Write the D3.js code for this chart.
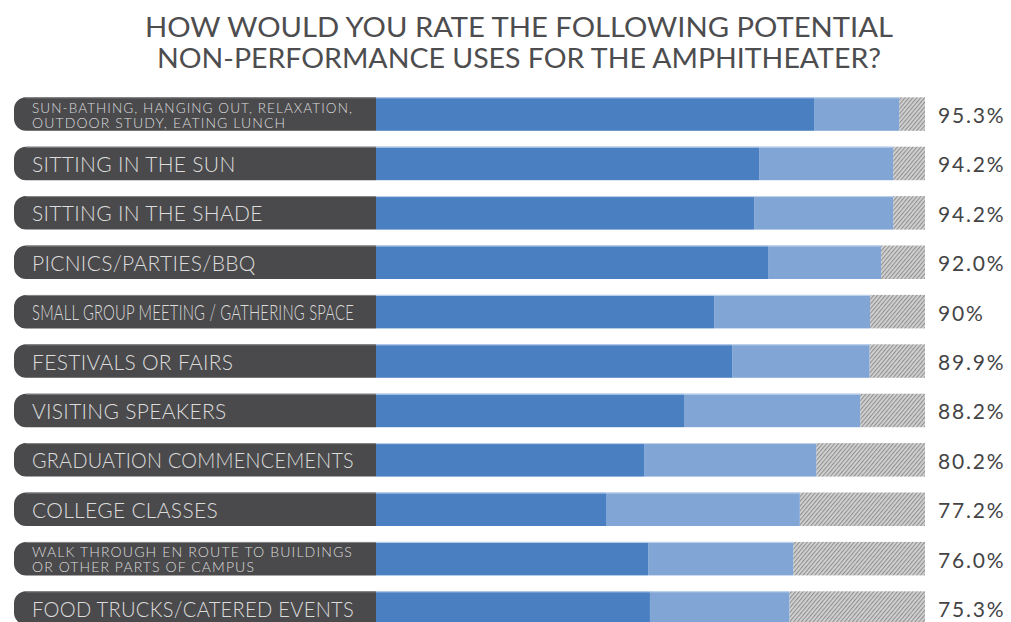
<!DOCTYPE html>
<html>
<head>
<meta charset="utf-8">
<script src="https://cdn.jsdelivr.net/npm/d3@7"></script>
<style>
  html, body { margin: 0; padding: 0; background: #ffffff; }
  svg { display: block; }
</style>
</head>
<body>
<svg id="chart" width="1011" height="622"></svg>
<script>
// Survey answers, one row per potential use ("\n" splits two-line labels)
const categories = [
  "SUN-BATHING, HANGING OUT, RELAXATION,\nOUTDOOR STUDY, EATING LUNCH",
  "SITTING IN THE SUN",
  "SITTING IN THE SHADE",
  "PICNICS/PARTIES/BBQ",
  "SMALL GROUP MEETING / GATHERING SPACE",
  "FESTIVALS OR FAIRS",
  "VISITING SPEAKERS",
  "GRADUATION COMMENCEMENTS",
  "COLLEGE CLASSES",
  "WALK THROUGH EN ROUTE TO BUILDINGS\nOR OTHER PARTS OF CAMPUS",
  "FOOD TRUCKS/CATERED EVENTS"
];
// Share giving the top rating (dark blue)
const topRating = [79.8, 69.8, 68.9, 71.5, 61.6, 64.9, 56.1, 48.9, 41.9, 49.6, 49.9];
// Total positive share (dark + light blue)
const totalPositive = [95.3, 94.2, 94.2, 92.0, 90, 89.9, 88.2, 80.2, 77.2, 76.0, 75.3];
const totalLabels = ["95.3%", "94.2%", "94.2%", "92.0%", "90%", "89.9%", "88.2%", "80.2%", "77.2%", "76.0%", "75.3%"];
const titleLines = [
  "HOW WOULD YOU RATE THE FOLLOWING POTENTIAL",
  "NON-PERFORMANCE USES FOR THE AMPHITHEATER?"
];

const rows = categories.map((c, i) => ({
  label: c,
  top: topRating[i],
  total: totalPositive[i],
  text: totalLabels[i]
}));

const svg = d3.select("#chart");
const FONT = "Lato, 'Open Sans', 'DejaVu Sans', sans-serif";

const x = d3.scaleLinear().domain([0, 100]).range([376, 925]);
const y = d3.scaleBand()
  .domain(d3.range(rows.length))
  .range([97.3, 624.8])
  .paddingInner(0.322)
  .paddingOuter(0);

// Hatched fill for the remainder of each bar
const defs = svg.append("defs");
const pat = defs.append("pattern")
  .attr("id", "hatch")
  .attr("patternUnits", "userSpaceOnUse")
  .attr("width", 3).attr("height", 3)
  .attr("patternTransform", "rotate(40)");
pat.append("rect").attr("width", 3).attr("height", 3).attr("fill", "#d4d4d4");
pat.append("line").attr("x1", 0.6).attr("y1", 0).attr("x2", 0.6).attr("y2", 3)
  .attr("stroke", "#8e8e8e").attr("stroke-width", 1.1);

// Title
svg.append("g").selectAll("text")
  .data(titleLines)
  .join("text")
  .attr("x", 519)
  .attr("y", (d, i) => 36.5 + i * 31.5)
  .attr("text-anchor", "middle")
  .attr("font-family", FONT)
  .attr("font-size", 27)
  .attr("fill", "#4d4d4f")
  .attr("textLength", (d, i) => i === 0 ? 748 : 724)
  .attr("lengthAdjust", "spacingAndGlyphs")
  .text(d => d);

const row = svg.append("g").selectAll("g")
  .data(rows)
  .join("g")
  .attr("transform", (d, i) => `translate(0,${y(i)})`);

const h = y.bandwidth();
const pillLeft = 14, r = 12;

// Dark label pill, rounded on the left
row.append("path")
  .attr("d", () => {
    const p = d3.path();
    const x1 = x(0);
    p.moveTo(x1, 0);
    p.lineTo(pillLeft + r, 0);
    p.arcTo(pillLeft, 0, pillLeft, r, r);
    p.lineTo(pillLeft, h - r);
    p.arcTo(pillLeft, h, pillLeft + r, h, r);
    p.lineTo(x1, h);
    p.closePath();
    return p.toString();
  })
  .attr("fill", "#4a4a4c");
row.append("line")
  .attr("x1", pillLeft + r).attr("x2", x(0))
  .attr("y1", 0.5).attr("y2", 0.5)
  .attr("stroke", "#8a8a8c").attr("stroke-width", 1);

// Remainder (hatched), light blue and dark blue segments
row.append("rect")
  .attr("x", d => x(d.total)).attr("y", 0)
  .attr("width", d => x(100) - x(d.total)).attr("height", h)
  .attr("fill", "url(#hatch)");
row.append("rect")
  .attr("x", d => x(d.top)).attr("y", 0)
  .attr("width", d => x(d.total) - x(d.top)).attr("height", h)
  .attr("fill", "#81a5d4");
row.append("rect")
  .attr("x", x(0)).attr("y", 0)
  .attr("width", d => x(d.top) - x(0)).attr("height", h)
  .attr("fill", "#4a80c2");
row.append("line")
  .attr("x1", x(0)).attr("x2", d => x(d.total))
  .attr("y1", 0.5).attr("y2", 0.5)
  .attr("stroke", "#c4d6ee").attr("stroke-width", 1);

// Category labels inside the pills
const maxLabel = 322;
row.each(function (d) {
  const g = d3.select(this);
  const lines = d.label.split("\n");
  const two = lines.length > 1;
  lines.forEach((ln, k) => {
    const t = g.append("text")
      .attr("x", 32)
      .attr("y", two ? h / 2 - 1.2 + k * 15 : h / 2 + 8.5)
      .attr("font-family", FONT)
      .attr("font-weight", 300)
      .attr("font-size", two ? 14 : 21)
      .attr("letter-spacing", two ? 1.1 : 0.3)
      .attr("fill", "#dcdcdc")
      .text(ln);
    const w = t.node().getComputedTextLength();
    if (w > maxLabel || (two && k === 0)) {
      t.attr("textLength", two && k === 0 ? 321 : maxLabel)
        .attr("lengthAdjust", "spacingAndGlyphs");
    }
  });
});

// Total positive share at the right
row.append("text")
  .attr("x", 938)
  .attr("y", h / 2 + 9)
  .attr("font-family", FONT)
  .attr("font-size", 21)
  .attr("letter-spacing", 1.8)
  .attr("fill", "#444446")
  .text(d => d.text);
</script>
</body>
</html>
